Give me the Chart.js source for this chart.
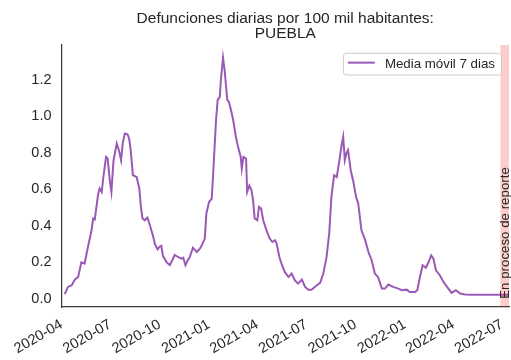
<!DOCTYPE html>
<html>
<head>
<meta charset="utf-8">
<script src="https://cdn.jsdelivr.net/npm/chart.js@4.4.1/dist/chart.umd.min.js"></script>
<style>
  body { margin: 0; background: #fff; }
  canvas { display: block; }
</style>
</head>
<body>
<canvas id="myChart" width="511" height="360"></canvas>
<script>
// dia 0 = 2020-04-01
var inicio = Date.UTC(2020, 3, 1);

var titulo = ['Defunciones diarias por 100 mil habitantes:', 'PUEBLA'];
var etiquetaSerie = 'Media móvil 7 dias';
var textoReporte = 'En proceso de reporte';

// dias desde 2020-04-01
var dias = [6, 12, 19, 25, 31, 37, 43, 50, 56, 59, 62, 68, 71, 75, 78, 83, 86, 90, 93, 97,
    103, 107, 111, 114, 118, 123, 126, 129, 133, 140, 145, 148, 151, 155, 160, 165, 168, 171, 174, 179,
    183, 186, 189, 196, 202, 211, 217, 224, 227, 231, 236, 239, 245, 252, 258, 261, 267, 270, 275, 280,
    283, 288, 291, 295, 297, 301, 304, 309, 312, 316, 320, 325, 329, 334, 336, 339, 344, 346, 350, 354,
    357, 360, 365, 368, 372, 376, 382, 388, 393, 398, 401, 406, 410, 416, 423, 429, 435, 441, 448, 454,
    460, 466, 472, 482, 488, 494, 499, 503, 508, 513, 518, 522, 525, 528, 531, 534, 539, 544, 549, 553,
    559, 566, 572, 578, 584, 590, 597, 603, 609, 618, 628, 634, 643, 649, 659, 663, 668, 673, 679, 684,
    689, 693, 698, 705, 712, 721, 727, 735, 743, 752, 768, 834];

var valores = [0.025, 0.065, 0.074, 0.105, 0.12, 0.2, 0.193, 0.293, 0.375, 0.44, 0.434, 0.567, 0.604, 0.585, 0.667, 0.777, 0.768, 0.649, 0.585, 0.759,
    0.85, 0.814, 0.759, 0.85, 0.905, 0.901, 0.878, 0.814, 0.677, 0.667, 0.604, 0.503, 0.44, 0.43, 0.445, 0.4, 0.37, 0.34, 0.3, 0.27,
    0.285, 0.29, 0.235, 0.2, 0.184, 0.24, 0.229, 0.22, 0.225, 0.184, 0.215, 0.229, 0.28, 0.256, 0.275, 0.29, 0.33, 0.467, 0.53, 0.549,
    0.704, 0.978, 1.088, 1.106, 1.197, 1.32, 1.252, 1.088, 1.078, 1.033, 0.978, 0.887, 0.832, 0.777, 0.713, 0.777, 0.768, 0.585, 0.62, 0.595,
    0.54, 0.44, 0.43, 0.503, 0.494, 0.43, 0.375, 0.33, 0.311, 0.321, 0.302, 0.229, 0.193, 0.147, 0.119, 0.138, 0.101, 0.083, 0.105, 0.065,
    0.05, 0.05, 0.065, 0.087, 0.138, 0.229, 0.36, 0.558, 0.677, 0.667, 0.759, 0.841, 0.887, 0.759, 0.796, 0.814, 0.704, 0.64, 0.558, 0.522,
    0.375, 0.321, 0.256, 0.211, 0.138, 0.119, 0.056, 0.056, 0.078, 0.065, 0.056, 0.047, 0.05, 0.037, 0.037, 0.047, 0.119, 0.184, 0.17, 0.2,
    0.238, 0.22, 0.156, 0.129, 0.092, 0.056, 0.032, 0.047, 0.029, 0.023, 0.022, 0.022];

var etiquetasX = ['2020-04', '2020-07', '2020-10', '2021-01', '2021-04', '2021-07', '2021-10', '2022-01', '2022-04', '2022-07'];
var ticksY = [0, 0.2, 0.4, 0.6, 0.8, 1.0, 1.2];

var diaFinal = 834;
var inicioReporte = 818;

var fuente = '"Liberation Sans", Arial, sans-serif';
var gris = '#262626';
var ejes = '#3d3d3d';

function diaDeEtiqueta(et){
    var p = et.split('-');
    return (Date.UTC(+p[0], +p[1] - 1, 1) - inicio) / 864e5;
}

var extras = {
    id: 'extras',
    afterDatasetsDraw: function(chart){
        var ctx = chart.ctx, a = chart.chartArea;
        var sx = chart.scales.x, sy = chart.scales.y;

        // franja "en proceso de reporte"
        var x0 = sx.getPixelForValue(inicioReporte), x1 = sx.getPixelForValue(diaFinal);
        ctx.save();
        ctx.fillStyle = 'rgba(255,0,0,0.2)';
        ctx.fillRect(x0, a.top, x1 - x0, a.bottom - a.top);
        ctx.translate(x0 + 8.5, sy.getPixelForValue(0));
        ctx.rotate(-Math.PI / 2);
        ctx.fillStyle = gris;
        ctx.font = '13.3px ' + fuente;
        ctx.textAlign = 'left';
        ctx.textBaseline = 'alphabetic';
        ctx.fillText(textoReporte, 0, 0);
        ctx.restore();

        // leyenda
        ctx.save();
        ctx.font = '13.3px ' + fuente;
        var label = chart.data.datasets[0].label;
        var tw = ctx.measureText(label).width;
        var w = 4.5 + 27 + 10 + tw + 6.5, h = 21.7;
        var bx = a.right - 7.5 - w, by = a.top + 8.3;
        ctx.beginPath();
        ctx.roundRect(bx, by, w, h, 3);
        ctx.fillStyle = 'rgba(255,255,255,0.8)';
        ctx.fill();
        ctx.strokeStyle = '#cccccc';
        ctx.lineWidth = 1;
        ctx.stroke();
        var ly = by + h / 2 - 1.5;
        ctx.beginPath();
        ctx.moveTo(bx + 4.5, ly);
        ctx.lineTo(bx + 31.5, ly);
        ctx.strokeStyle = chart.data.datasets[0].borderColor;
        ctx.lineWidth = 2;
        ctx.stroke();
        ctx.fillStyle = gris;
        ctx.textBaseline = 'middle';
        ctx.fillText(label, bx + 41.5, by + h / 2);
        ctx.restore();
    },
    afterDraw: function(chart){
        var ctx = chart.ctx, a = chart.chartArea;
        var cx = (a.left + a.right) / 2;
        ctx.save();
        ctx.fillStyle = gris;
        ctx.font = '15.5px ' + fuente;
        ctx.textAlign = 'center';
        ctx.textBaseline = 'alphabetic';
        ctx.fillText(titulo[0], cx, 22.7);
        ctx.fillText(titulo[1], cx, 37.5);
        ctx.restore();
    }
};

var ctx = document.getElementById('myChart').getContext('2d');
var chart = new Chart(ctx, {
    type: 'line',
    data: {
        datasets: [{
            label: etiquetaSerie,
            borderColor: '#9b59b6',
            borderWidth: 2,
            pointRadius: 0,
            fill: false,
            tension: 0,
            data: dias.map(function(d, i){ return {x: d, y: valores[i]}; })
        }]
    },
    options: {
        responsive: false,
        animation: false,
        layout: { padding: { top: 45, right: 2, left: 0, bottom: 0 } },
        plugins: {
            legend: { display: false },
            title: { display: false },
            tooltip: { enabled: false }
        },
        scales: {
            x: {
                type: 'linear',
                min: 0,
                max: diaFinal,
                grid: { display: false, drawTicks: false },
                border: { display: true, color: ejes, width: 1.25 },
                ticks: {
                    autoSkip: false,
                    minRotation: 30,
                    maxRotation: 30,
                    padding: 9,
                    color: gris,
                    font: { family: fuente, size: 14.5 },
                    callback: function(v, i){ return etiquetasX[i]; }
                },
                afterBuildTicks: function(s){
                    s.ticks = etiquetasX.map(function(e){ return {value: diaDeEtiqueta(e)}; });
                },
                afterFit: function(s){
                    s.height = 53;
                    s.paddingLeft = 0;
                    s.paddingRight = 0;
                }
            },
            y: {
                min: -0.045,
                max: 1.39,
                grid: { display: false, drawTicks: false },
                border: { display: true, color: ejes, width: 1.25 },
                ticks: {
                    padding: 10,
                    color: gris,
                    font: { family: fuente, size: 14.5 },
                    callback: function(v){ return v.toFixed(1); }
                },
                afterBuildTicks: function(s){
                    s.ticks = ticksY.map(function(v){ return {value: v}; });
                },
                afterFit: function(s){
                    s.width = 61.5;
                }
            }
        }
    },
    plugins: [extras]
});
</script>
</body>
</html>
